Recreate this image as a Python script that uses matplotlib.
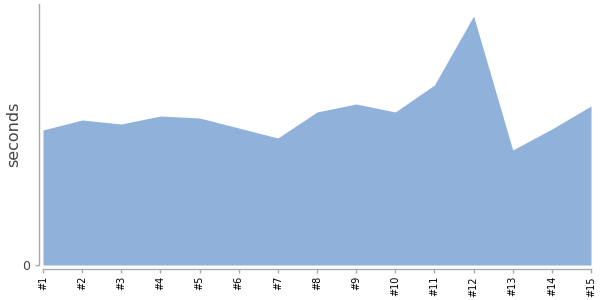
import matplotlib
matplotlib.use("Agg")
import matplotlib.pyplot as plt

runs = ["#1", "#2", "#3", "#4", "#5", "#6", "#7", "#8", "#9", "#10",
        "#11", "#12", "#13", "#14", "#15"]
seconds = [13.5, 14.5, 14.1, 14.9, 14.7, 13.7, 12.7, 15.3, 16.1, 15.3,
           18.0, 24.9, 11.5, 13.6, 15.9]

fig = plt.figure(figsize=(6, 3), dpi=100)
ax = fig.add_axes([43 / 600, 35 / 300, 548 / 600, 261 / 300])

x = range(len(runs))
ax.fill_between(x, seconds, 0, color="#8fb1da", linewidth=0)

# spines first: set_position resets the ticks
for side in ("top", "right"):
    ax.spines[side].set_visible(False)
for side in ("left", "bottom"):
    ax.spines[side].set_color("#aaaaaa")
    ax.spines[side].set_linewidth(1)
    ax.spines[side].set_position(("outward", 3))

ax.set_xlim(0, len(runs) - 1)
ax.set_ylim(0, 26.1)
ax.set_xticks(list(x))
ax.set_xticklabels(runs, rotation=90, fontsize=7, color="black")
ax.set_yticks([0])
ax.set_yticklabels(["0"], fontsize=9, color="#444444")
ax.tick_params(axis="x", length=3, width=1, color="#aaaaaa", pad=2)
ax.tick_params(axis="y", length=3, width=1, color="#aaaaaa", pad=3)

ax.set_ylabel("seconds", fontsize=11.5, color="#444444")
ax.yaxis.set_label_coords(-22 / 548, 0.5)

plt.savefig("out.png", dpi=100)
plt.close(fig)
